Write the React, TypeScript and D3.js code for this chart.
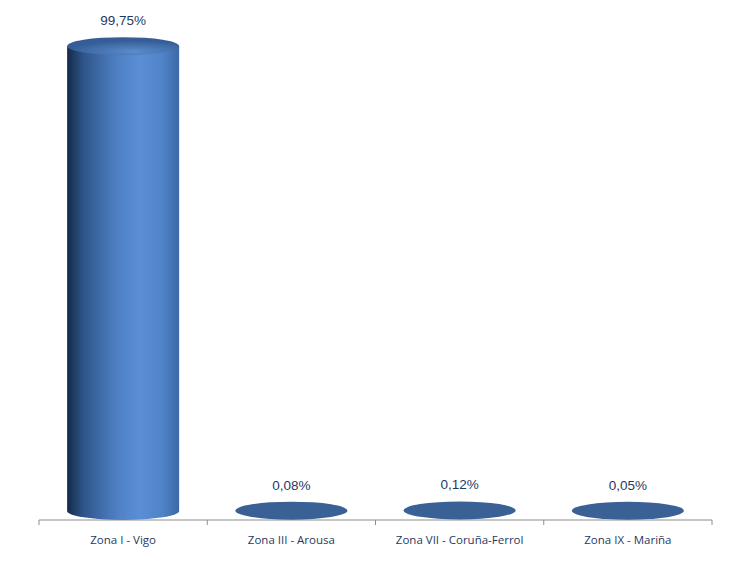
import React from "react";
import * as d3 from "d3";

const categories = ["Zona I - Vigo", "Zona III - Arousa", "Zona VII - Coruña-Ferrol", "Zona IX - Mariña"];
const values = [99.75, 0.08, 0.12, 0.05];
const labels = ["99,75%", "0,08%", "0,12%", "0,05%"];

export default function App() {
  const W = 732, H = 562;
  const x = d3.scaleBand<string>().domain(categories).range([39, 712]).paddingInner(0).paddingOuter(0);
  const y = d3.scaleLinear().domain([0, 100]).range([511, 45]);
  const axisY = 520;
  const bw = 112;
  const ry = 9;
  const ticks = [...categories.map((c) => x(c)!), 712];
  return (
    <svg width={W} height={H} style={{ position: "absolute", left: 0, top: 0 }}>
      <defs>
        <linearGradient id="cyl" x1="0" x2="1" y1="0" y2="0">
          <stop offset="0" stopColor="#142a48" />
          <stop offset="0.15" stopColor="#2f568c" />
          <stop offset="0.45" stopColor="#4f80c4" />
          <stop offset="0.65" stopColor="#5a8fd6" />
          <stop offset="0.85" stopColor="#4f84c8" />
          <stop offset="1" stopColor="#3c68a6" />
        </linearGradient>
        <radialGradient id="top" cx="0.6" cy="0.8" r="0.6">
          <stop offset="0" stopColor="#5b8ccc" />
          <stop offset="1" stopColor="#355e98" />
        </radialGradient>
      </defs>
      <line x1={39} x2={712} y1={axisY} y2={axisY} stroke="#8c8c8c" strokeWidth={1} />
      {ticks.map((t, i) => (
        <line key={i} x1={t} x2={t} y1={axisY} y2={axisY + 5} stroke="#8c8c8c" strokeWidth={1} />
      ))}
      {categories.map((c, i) => {
        const cx = x(c)! + x.bandwidth() / 2;
        const yTop = y(values[i]);
        const yBot = y(0);
        const h = yBot - yTop;
        return (
          <g key={c}>
            {h > 2 ? (
              <>
                <path
                  d={`M${cx - bw / 2},${yTop} L${cx - bw / 2},${yBot} A${bw / 2},${ry} 0 0 0 ${cx + bw / 2},${yBot} L${cx + bw / 2},${yTop} Z`}
                  fill="url(#cyl)"
                />
                <ellipse cx={cx} cy={yTop} rx={bw / 2} ry={ry} fill="url(#top)" />
              </>
            ) : (
              <ellipse cx={cx} cy={yTop} rx={bw / 2} ry={ry} fill="#3a6196" />
            )}
            <text
              x={cx}
              y={yTop - 21}
              textAnchor="middle"
              fontFamily="Liberation Sans, Arial, sans-serif"
              fontSize={13.5}
              fill="#1f3a5f"
            >
              {labels[i]}
            </text>
            <text
              x={cx}
              y={544}
              textAnchor="middle"
              fontFamily="Open Sans, sans-serif"
              fontSize={11.5}
              fill="#1f3a5f"
            >
              {c}
            </text>
          </g>
        );
      })}
    </svg>
  );
}
